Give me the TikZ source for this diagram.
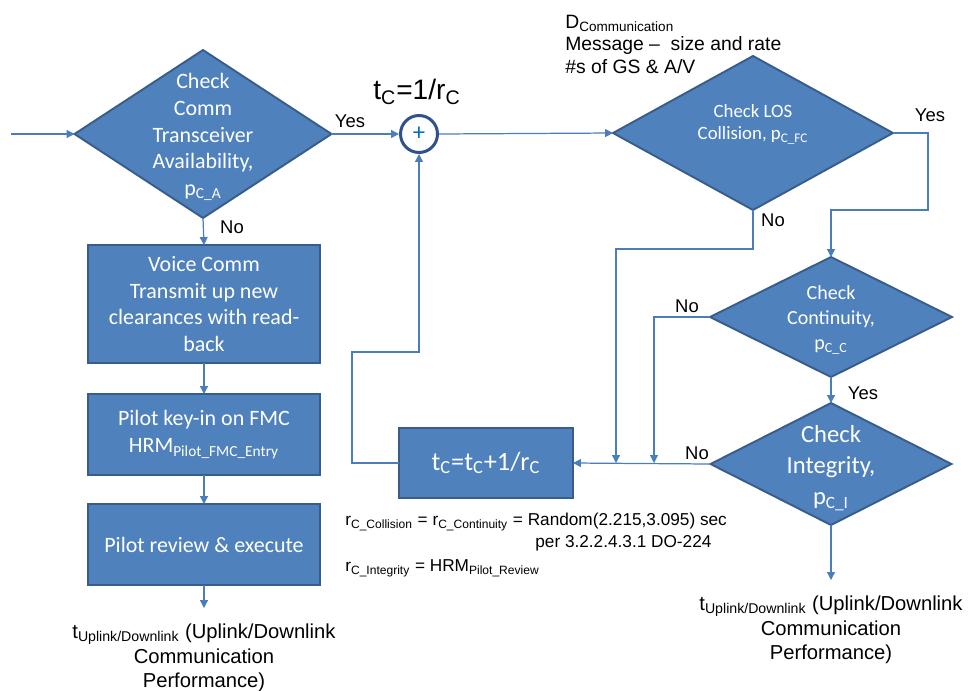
\documentclass[tikz,border=0pt]{standalone}
\usepackage{fontspec}
\setmainfont{Liberation Sans}
\newfontfamily\calfont{Carlito}
\usetikzlibrary{arrows.meta,positioning,shapes.geometric}
\definecolor{boxfill}{HTML}{4F81BD}
\definecolor{boxline}{HTML}{385D8A}
\definecolor{linec}{HTML}{4A7EBB}
\definecolor{ringc}{HTML}{2F528F}
\definecolor{plusc}{HTML}{0070C0}
\tikzset{%
	decision/.style = {draw=boxline, fill=boxfill, diamond, line width=1.1pt, inner sep=0pt, outer sep=0pt},
	dtext/.style    = {text=white, align=center, inner sep=0pt},
	process/.style  = {draw=boxline, fill=boxfill, rectangle, line width=1.3pt, text=white, align=center, inner sep=0pt, outer sep=0pt, minimum width=4.64cm, font=\calfont\fontsize{12.5}{15.3}\selectfont},
	sumnode/.style  = {draw=ringc, fill=white, circle, line width=1.7pt, minimum size=0.74cm, inner sep=0pt, text=plusc, font=\calfont\fontsize{14}{14}\selectfont},
	arrow/.style    = {draw=linec, line width=0.7pt, -{Triangle[length=4.5pt,width=4.5pt]}},
	lbl/.style      = {inner sep=0pt, font=\fontsize{10.5}{12}\selectfont},
	note/.style     = {anchor=west, inner sep=0pt, font=\fontsize{9.8}{12}\selectfont},
	outtxt/.style   = {align=center, inner sep=0pt, font=\fontsize{11.5}{14}\selectfont},
}

\begin{document}
\begin{tikzpicture}[x=0.02cm, y=-0.02cm]
	\useasboundingbox (0,0) rectangle (969,690);

	% left column
	\node[decision, minimum width=5.14cm, minimum height=3.36cm] (avail) at (203,134) {};
	\node[dtext, font=\calfont\fontsize{12.5}{15.3}\selectfont] (availtxt) at (203,137) {Check\\Comm\\Transceiver\\Availability,\\p\textsubscript{C\_A}};
	\node[process, minimum height=2.36cm] (voice) at (204,304) {Voice Comm\\Transmit up new\\clearances with read-\\back};
	\node[process, minimum height=1.62cm] (keyin) at (204,434.5) {Pilot key-in on FMC\\HRM\textsubscript{Pilot\_FMC\_Entry}};
	\node[process, minimum height=1.62cm] (review) at (204,544.5) {Pilot review \& execute};
	\coordinate (outl) at (204,608);
	\node[outtxt] (perfl) at (204,658) {t\textsubscript{Uplink/Downlink} (Uplink/Downlink\\Communication\\Performance)};

	% summing point
	\node[sumnode] (sum) at (419,134) {+};
	\node[inner sep=0pt, font=\fontsize{16}{18}\selectfont] (tinit) at (417,92) {t\textsubscript{C}=1/r\textsubscript{C}};

	% right column
	\node[note, align=left, font=\fontsize{11}{12.8}\selectfont] (dcomm) at (565,44) {D\textsubscript{Communication}\\Message –\ \ size and rate\\\#s of GS \& A/V};
	\node[decision, minimum width=5.6cm, minimum height=3.08cm] (los) at (753,133) {};
	\node[dtext, font=\calfont\fontsize{10.7}{12.6}\selectfont] (lostxt) at (753,124) {Check LOS\\Collision, p\textsubscript{C\_FC}};
	\node[decision, minimum width=4.84cm, minimum height=2.4cm] (cont) at (831,317) {};
	\node[dtext, font=\calfont\fontsize{11.4}{14.2}\selectfont] (conttxt) at (831,320) {Check\\Continuity,\\p\textsubscript{C\_C}};
	\node[decision, minimum width=4.82cm, minimum height=2.44cm] (integ) at (831,464) {};
	\node[dtext, font=\calfont\fontsize{14}{17.5}\selectfont] (integtxt) at (831,468) {Check\\Integrity,\\p\textsubscript{C\_I}};
	\coordinate (outr) at (831,580);
	\node[outtxt] (perfr) at (831,630) {t\textsubscript{Uplink/Downlink} (Uplink/Downlink\\Communication\\Performance)};

	% time update
	\node[process, minimum width=3.48cm, minimum height=1.4cm, font=\calfont\fontsize{15}{18}\selectfont] (upd) at (486,463) {t\textsubscript{C}=t\textsubscript{C}+1/r\textsubscript{C}};
	\node[note] (rcoll) at (345,522) {r\textsubscript{C\_Collision} = r\textsubscript{C\_Continuity} = Random(2.215,3.095) sec};
	\node[note] (rper) at (535,543) {per 3.2.2.4.3.1 DO-224};
	\node[note] (rinteg) at (345,568) {r\textsubscript{C\_Integrity} = HRM\textsubscript{Pilot\_Review}};
	\coordinate (jcoll) at (616,463);
	\coordinate (jcont) at (654,463);
	\coordinate (entry) at (11,134);

	% connectors
	\draw[arrow] (entry) -- (avail.west);
	\draw[arrow] (avail.east) -- (sum.west);
	\draw[arrow] (avail.south) -- (voice.north);
	\draw[arrow] (voice.south) -- (keyin.north);
	\draw[arrow] (keyin.south) -- (review.north);
	\draw[arrow] (review.south) -- (outl);
	\draw[arrow] (sum.east) -- (los.west);
	\draw[arrow] (los.east) -| (928,210) -| (cont.north);
	\draw[arrow] (los.south) -- ++(0,39) -| (jcoll);
	\draw[arrow] (cont.west) -| (jcont);
	\draw[arrow] (cont.south) -- (integ.north);
	\draw[arrow] (integ.west) -- (upd.east);
	\draw[arrow] (integ.south) -- (outr);
	\draw[arrow] (upd.west) -- ++(-47,0) |- (419,352) -- (sum.south);

	% branch labels
	\node[lbl] (yesavail) at (350,121) {Yes};
	\node[lbl] (noavail) at (232,227) {No};
	\node[lbl] (yeslos) at (930,115) {Yes};
	\node[lbl] (nolos) at (773,220) {No};
	\node[lbl] (nocont) at (687,306) {No};
	\node[lbl] (yescont) at (863,393) {Yes};
	\node[lbl] (nointeg) at (697,453) {No};
\end{tikzpicture}
\end{document}
